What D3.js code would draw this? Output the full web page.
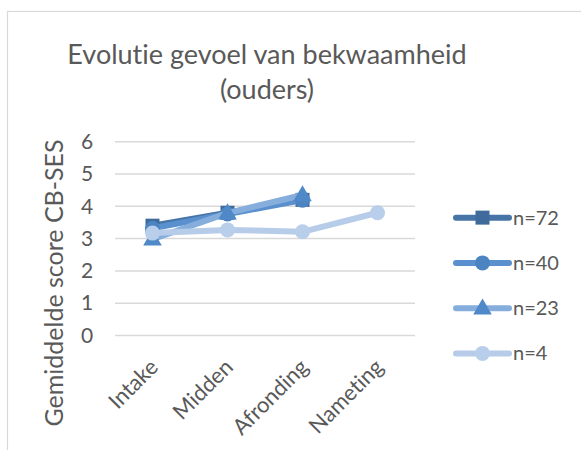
<!DOCTYPE html>
<html><head><meta charset="utf-8">
<script src="https://cdn.jsdelivr.net/npm/d3@7/dist/d3.min.js"></script>
<style>body{margin:0;background:#fff}svg{display:block}text{font-variant-ligatures:none;font-feature-settings:"liga" 0}</style>
</head><body>
<svg id="c" width="581" height="450"></svg>
<script>
const categories = ["Intake", "Midden", "Afronding", "Nameting"];
const seriesNames = ["n=72", "n=40", "n=23", "n=4"];
const n72 = [3.4, 3.8, 4.2, null];
const n40 = [3.32, 3.76, 4.19, null];
const n23 = [2.98, 3.79, 4.35, null];
const n4 = [3.17, 3.27, 3.21, 3.8];
const yTicks = [0, 1, 2, 3, 4, 5, 6];
const title = ["Evolutie gevoel van bekwaamheid", "(ouders)"];
const yTitle = "Gemiddelde score CB-SES";

const series = [
  {name: seriesNames[0], values: n72, line: "#4674A6", mark: "#3E6B9B", shape: "square"},
  {name: seriesNames[1], values: n40, line: "#5A90CD", mark: "#4C84C2", shape: "circle"},
  {name: seriesNames[2], values: n23, line: "#86AEDD", mark: "#4F89C8", shape: "triangle"},
  {name: seriesNames[3], values: n4, line: "#B6CCE9", mark: "#B8CEEA", shape: "circle"}
];

const font = "Lato, 'Open Sans', sans-serif";
const txt = "#595959";
const svg = d3.select("#c");

svg.append("rect").attr("x", 7.5).attr("y", 11.5).attr("width", 620).attr("height", 500)
  .attr("fill", "#fff").attr("stroke", "#d9d9d9").attr("stroke-width", 1.2);

svg.append("text").attr("x", 267).attr("y", 64).attr("text-anchor", "middle")
  .attr("font-family", font).attr("font-size", 27).attr("fill", txt).text(title[0]);
svg.append("text").attr("x", 267).attr("y", 99).attr("text-anchor", "middle")
  .attr("font-family", font).attr("font-size", 27).attr("fill", txt).text(title[1]);

const x = d3.scaleBand().domain(categories).range([115, 415]);
const y = d3.scaleLinear().domain([0, 6]).range([335.5, 141.7]);

const g = svg.append("g");
g.selectAll("line.grid").data(yTicks).join("line")
  .attr("x1", 115).attr("x2", 415).attr("y1", d => y(d)).attr("y2", d => y(d))
  .attr("stroke", "#d9d9d9").attr("stroke-width", 1.5);

const yAxis = svg.append("g").attr("transform", "translate(100,0)")
  .call(d3.axisLeft(y).tickValues(yTicks).tickFormat(d3.format("d")).tickSize(0).tickPadding(0));
yAxis.select(".domain").remove();
yAxis.selectAll("text").attr("font-family", font).attr("font-size", 21).attr("fill", txt)
  .attr("text-anchor", "middle").attr("x", -13);

const xAxis = svg.append("g").attr("transform", "translate(0,335.5)")
  .call(d3.axisBottom(x).tickSize(0).tickPadding(0));
xAxis.select(".domain").remove();
xAxis.selectAll("text").attr("font-family", font).attr("font-size", 22).attr("fill", txt)
  .attr("text-anchor", "end").attr("dy", 0).attr("y", 0)
  .attr("transform", "translate(7,33) rotate(-45)");

svg.append("text").attr("transform", "translate(63,283) rotate(-90)")
  .attr("text-anchor", "middle").attr("font-family", font).attr("font-size", 25)
  .attr("fill", txt).text(yTitle);

const cx = c => x(c) + x.bandwidth() / 2;
const line = d3.line().defined(d => d.v != null).x(d => cx(d.c)).y(d => y(d.v));

function marker(sel, s, px, py) {
  if (s.shape === "square") {
    sel.append("rect").attr("x", px - 7).attr("y", py - 7).attr("width", 14).attr("height", 14).attr("fill", s.mark);
  } else if (s.shape === "circle") {
    sel.append("circle").attr("cx", px).attr("cy", py).attr("r", 7.5).attr("fill", s.mark);
  } else {
    sel.append("path").attr("d", d3.symbol().type(d3.symbolTriangle).size(150)()).attr("transform", `translate(${px},${py+1})`).attr("fill", s.mark);
  }
}

series.forEach(s => {
  const pts = categories.map((c, i) => ({c, v: s.values[i]}));
  g.append("path").datum(pts).attr("d", line).attr("fill", "none")
    .attr("stroke", s.line).attr("stroke-width", 6).attr("stroke-linejoin", "round").attr("stroke-linecap", "round");
  pts.filter(d => d.v != null).forEach(d => marker(g, s, cx(d.c), y(d.v)));
});

const leg = d3.scaleBand().domain(seriesNames).range([195, 376]);
series.forEach(s => {
  const ly = leg(s.name) + leg.bandwidth() / 2;
  svg.append("line").attr("x1", 456).attr("x2", 509).attr("y1", ly).attr("y2", ly)
    .attr("stroke", s.line).attr("stroke-width", 6).attr("stroke-linecap", "round");
  marker(svg, s, 482.5, ly);
  svg.append("text").attr("x", 513).attr("y", ly).attr("dy", "0.35em")
    .attr("font-family", font).attr("font-size", 20).attr("fill", txt).text(s.name);
});
</script>
</body></html>
